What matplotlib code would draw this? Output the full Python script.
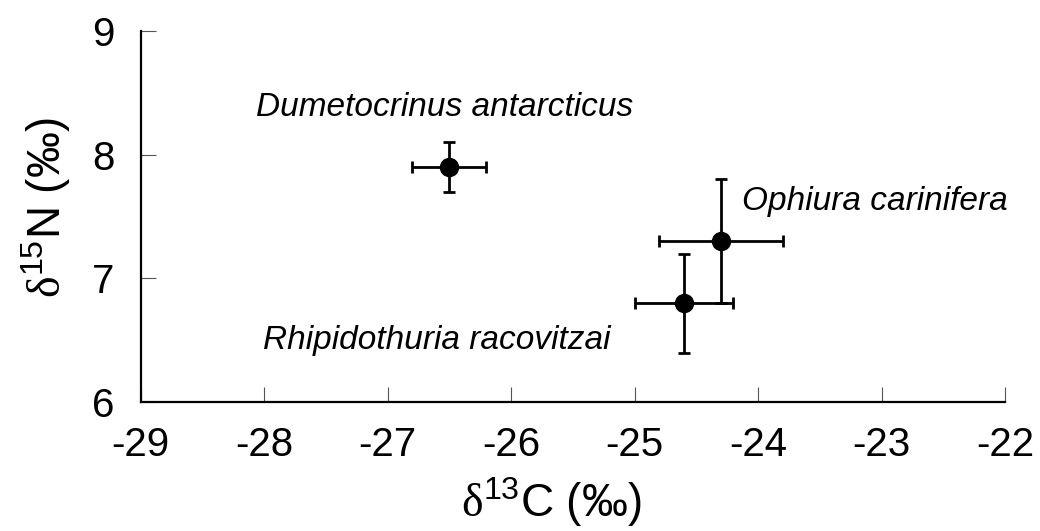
import matplotlib
matplotlib.use("Agg")
import matplotlib.pyplot as plt

# species mean isotope values with error (‰)
species = ["Dumetocrinus antarcticus", "Ophiura carinifera", "Rhipidothuria racovitzai"]
d13c = [-26.5, -24.3, -24.6]
d13c_err = [0.3, 0.5, 0.4]
d15n = [7.9, 7.3, 6.8]
d15n_err = [0.2, 0.5, 0.4]

# label anchor (left edge / vertical centre) in data units
label_x = [-28.07, -24.13, -28.01]
label_y = [8.38, 7.62, 6.50]

x_ticks = [-29, -28, -27, -26, -25, -24, -23, -22]
y_ticks = [6, 7, 8, 9]

plt.rcParams["font.family"] = ["Liberation Sans", "DejaVu Sans"]
plt.rcParams["mathtext.fontset"] = "custom"
plt.rcParams["mathtext.rm"] = "Liberation Serif"
plt.rcParams["mathtext.sf"] = "Liberation Sans"

fig = plt.figure(figsize=(10.4, 5.31), dpi=100)
ax = fig.add_axes([0.1353, 0.2429, 0.8311, 0.6987])

ax.errorbar(d13c, d15n, xerr=d13c_err, yerr=d15n_err, fmt="o", color="black",
            markersize=13, elinewidth=2.0, capsize=4.5, capthick=2.0, zorder=3)

for name, lx, ly in zip(species, label_x, label_y):
    ax.text(lx, ly, name, style="italic", fontsize=24, ha="left", va="center")

ax.set_xlim(-29, -22)
ax.set_ylim(6, 9)
ax.set_xticks(x_ticks)
ax.set_yticks(y_ticks)
ax.set_xticklabels([str(v) for v in x_ticks])
ax.set_yticklabels([str(v) for v in y_ticks])

for side in ("top", "right"):
    ax.spines[side].set_visible(False)
for side in ("left", "bottom"):
    ax.spines[side].set_linewidth(1.6)

ax.tick_params(direction="in", length=11, width=0.8, colors="#555555",
               labelcolor="black", labelsize=29)
ax.tick_params(axis="x", pad=17)
ax.tick_params(axis="y", pad=19)

ax.set_xlabel(r"$\mathrm{\delta}^{\mathsf{13}}$C (‰)", fontsize=33, labelpad=8, x=0.475)
ax.set_ylabel(r"$\mathrm{\delta}^{\mathsf{15}}$N (‰)", fontsize=33, labelpad=14, y=0.523)

fig.savefig("out.png", dpi=100, facecolor="white")
